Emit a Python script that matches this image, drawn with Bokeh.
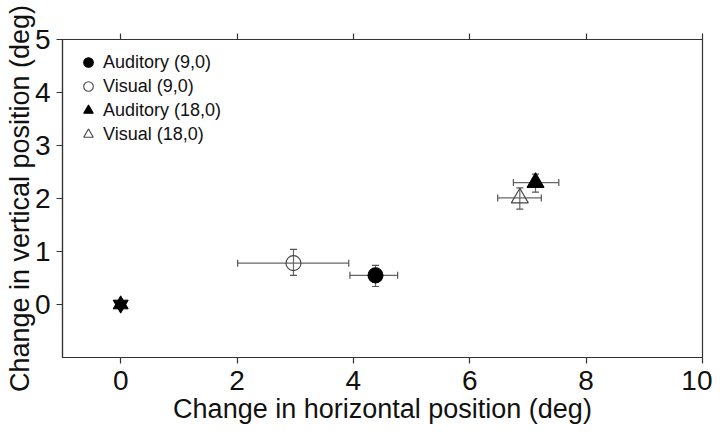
from bokeh.plotting import figure
from bokeh.models import (ColumnDataSource, Whisker, TeeHead, Range1d, FixedTicker,
                          LinearAxis, Legend, LegendItem, CustomJSTickFormatter)
from bokeh.embed import file_html
from bokeh.resources import INLINE

# ---- data ----
labels = ["Auditory (9,0)", "Visual (9,0)", "Auditory (18,0)", "Visual (18,0)"]
x_mean = [4.38, 2.97, 7.13, 6.86]
x_lo = [3.94, 2.01, 6.75, 6.48]
x_hi = [4.76, 3.92, 7.53, 7.23]
y_mean = [0.55, 0.78, 2.30, 2.01]
y_lo = [0.34, 0.55, 2.12, 1.80]
y_hi = [0.74, 1.04, 2.46, 2.20]
markers = ["circle", "circle", "triangle", "triangle"]
filled = [True, False, True, False]
origin_x = [0.0]
origin_y = [0.0]
x_ticks = [0, 2, 4, 6, 8, 10]
y_ticks = [0, 1, 2, 3, 4, 5]

FONT = "Liberation Sans"
AX = "#333333"

p = figure(width=712, height=434, output_backend="svg", toolbar_location=None,
           x_range=Range1d(-1, 10), y_range=Range1d(-1, 5),
           min_border_left=62, min_border_right=10, min_border_top=39, min_border_bottom=77)
p.background_fill_color = "white"
p.border_fill_color = "white"
p.grid.visible = False
p.outline_line_color = AX
p.outline_line_width = 1.2

for ax, ticks in ((p.xaxis[0], x_ticks), (p.yaxis[0], y_ticks)):
    ax.ticker = FixedTicker(ticks=ticks)
    ax.major_tick_out = 6
    ax.major_tick_in = 0
    ax.minor_tick_out = 0
    ax.minor_tick_in = 0
    ax.axis_line_color = AX
    ax.major_tick_line_color = AX
    ax.axis_line_width = 1.2
    ax.major_tick_line_width = 1.2
    ax.major_label_text_font = FONT
    ax.major_label_text_font_size = "28px"
    ax.major_label_text_color = "#111111"
    ax.axis_label_text_font = FONT
    ax.axis_label_text_font_size = "27px"
    ax.axis_label_text_font_style = "normal"
    ax.axis_label_text_color = "#111111"

p.xaxis.axis_label = "Change in horizontal position (deg)"
p.yaxis.axis_label = "Change in vertical position (deg)"
p.xaxis.major_label_standoff = 7
p.xaxis.axis_label_standoff = 1
p.yaxis.major_label_standoff = 6
p.yaxis.axis_label_standoff = -3

top = LinearAxis(ticker=FixedTicker(ticks=x_ticks),
                 formatter=CustomJSTickFormatter(code="return ''"),
                 major_label_text_font_size="10px", major_label_standoff=0,
                 major_tick_out=6, major_tick_in=0, minor_tick_out=0, minor_tick_in=0,
                 axis_line_color=AX, major_tick_line_color=AX,
                 axis_line_width=1.2, major_tick_line_width=1.2)
p.add_layout(top, "above")

src = ColumnDataSource(dict(x=x_mean, y=y_mean, xl=x_lo, xh=x_hi, yl=y_lo, yh=y_hi))
for dim, base, lo, hi in (("width", "y", "xl", "xh"), ("height", "x", "yl", "yh")):
    w = Whisker(source=src, base=base, lower=lo, upper=hi, dimension=dim,
                line_color="#666666", line_width=1.2,
                lower_head=TeeHead(size=7, line_color="#555555", line_width=1.2),
                upper_head=TeeHead(size=7, line_color="#555555", line_width=1.2))
    p.add_layout(w)

items = []
for i in range(len(labels)):
    size = 15 if markers[i] == "circle" else 17
    r = p.scatter(x=[x_mean[i]], y=[y_mean[i]], marker=markers[i], size=size,
                  fill_color="black" if filled[i] else None,
                  line_color="black" if filled[i] else "#444444", line_width=1.1)
    items.append(LegendItem(label=labels[i], renderers=[r]))

# six-pointed star at the origin
p.scatter(x=origin_x, y=origin_y, marker="triangle", size=15, fill_color="black", line_color="black")
p.scatter(x=origin_x, y=origin_y, marker="inverted_triangle", size=15, fill_color="black", line_color="black")

leg = Legend(items=items, location="top_left")
leg.margin = 11
leg.padding = 10
leg.border_line_color = None
leg.background_fill_alpha = 0
leg.label_text_font = FONT
leg.label_text_font_size = "18px"
leg.label_text_color = "#111111"
leg.glyph_width = 30
leg.glyph_height = 24
leg.label_height = 24
leg.spacing = 0
leg.label_standoff = 0
p.add_layout(leg)

open("out.html", "w").write(file_html(p, INLINE))
